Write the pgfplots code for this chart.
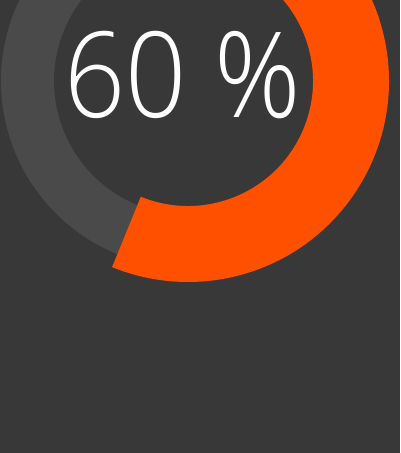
\documentclass[border=0pt]{standalone}
\usepackage{fontspec}
\usepackage{pgfplots}
\usepackage{pgfplotstable}
\pgfplotsset{compat=1.18}
\newfontfamily\lightfont[FakeStretch=0.9]{Open Sans Light}
\definecolor{bg}{HTML}{383838}
\definecolor{track}{HTML}{4A4A4A}
\definecolor{fillc}{HTML}{FF5000}
\pgfplotstableread{
label value
done 60
rest 40
}\gaugedata
\begin{document}
\begin{tikzpicture}
\pgfplotstablegetelem{0}{value}\of\gaugedata
\pgfmathsetmacro{\vdone}{\pgfplotsretval}
\pgfmathtruncatemacro{\vlabel}{\pgfplotsretval}
\pgfmathsetmacro{\aend}{-112.2}
\pgfmathsetmacro{\astart}{\aend+3.6*\vdone}
\pgfmathsetmacro{\agray}{\aend+360}
\clip (0,-453pt) rectangle (400pt,0pt);
\fill[bg] (0,-453pt) rectangle (400pt,0pt);
\begin{axis}[
  at={(0,0)}, anchor=origin,
  x=1pt, y=1pt,
  xmin=0, xmax=400, ymin=-453, ymax=0,
  hide axis, clip=false,
]
% remaining (track) ring
\fill[track] ([shift={(\astart:187pt)}]axis cs:188,-81)
  arc[start angle=\astart, end angle=\agray, radius=187pt]
  -- ([shift={(\agray:134pt)}]axis cs:188,-81)
  arc[start angle=\agray, end angle=\astart, radius=134pt] -- cycle;
% value ring
\fill[fillc] ([shift={(\astart:201pt)}]axis cs:188,-81)
  arc[start angle=\astart, end angle=\aend, radius=201pt]
  -- ([shift={(\aend:125pt)}]axis cs:188,-81)
  arc[start angle=\aend, end angle=\astart, radius=125pt] -- cycle;
\node[text=white, anchor=base, inner sep=0pt,
  font=\lightfont\fontsize{119}{119}\selectfont]
  at (axis cs:183,-117) {\vlabel{} \%};
\end{axis}
\end{tikzpicture}
\end{document}
